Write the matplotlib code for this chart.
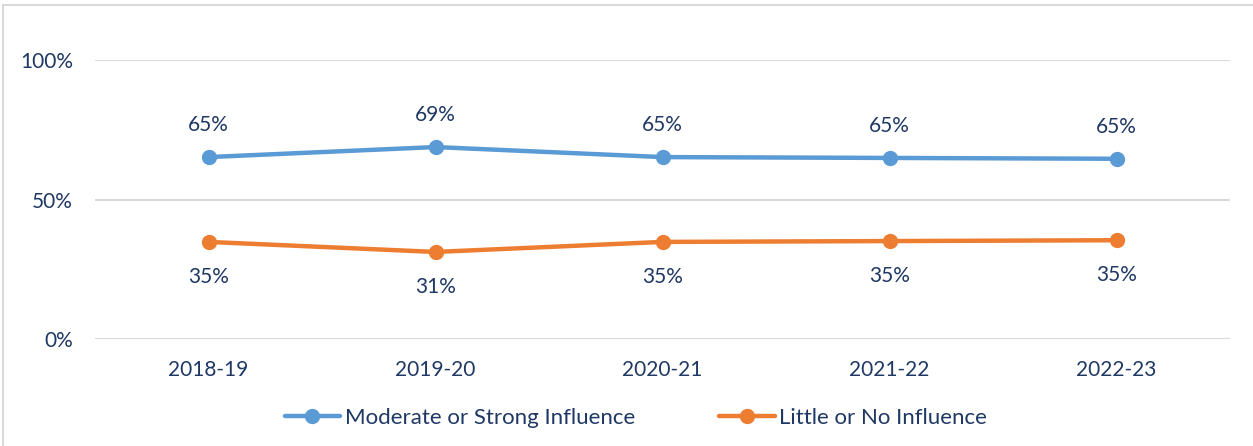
import matplotlib
matplotlib.use("Agg")
import matplotlib.pyplot as plt
from matplotlib.patches import Rectangle

categories = ["2018-19", "2019-20", "2020-21", "2021-22", "2022-23"]
moderate_strong = [65.2, 68.8, 65.2, 64.9, 64.6]
little_none = [34.8, 31.2, 34.8, 35.1, 35.4]
moderate_labels = ["65%", "69%", "65%", "65%", "65%"]
little_labels = ["35%", "31%", "35%", "35%", "35%"]
yticks = [0, 50, 100]
ytick_labels = ["0%", "50%", "100%"]

plt.rcParams['font.family'] = ['Lato', 'DejaVu Sans']
navy = "#1F3864"
blue = "#5B9BD5"
orange = "#ED7D31"

fig = plt.figure(figsize=(12.53, 4.46), dpi=100)
fig.patches.append(Rectangle((3/1253, -0.05), 1.05, 1.05 - 5/446, transform=fig.transFigure,
                             fill=False, edgecolor="#D9D9D9", linewidth=1.5))
ax = fig.add_axes([95/1253, 1 - 339/446, (1230 - 95)/1253, (339 - 60)/446])

x = list(range(len(categories)))
ax.plot(x, moderate_strong, color=blue, lw=3.2, marker="o", ms=10, label="Moderate or Strong Influence",
        solid_capstyle="round", zorder=3)
ax.plot(x, little_none, color=orange, lw=3.2, marker="o", ms=10, label="Little or No Influence",
        solid_capstyle="round", zorder=3)

for xi, v, t in zip(x, moderate_strong, moderate_labels):
    ax.annotate(t, (xi, v), xytext=(0, 16), textcoords="offset points", ha="center", va="bottom",
                color=navy, fontsize=15)
for xi, v, t in zip(x, little_none, little_labels):
    ax.annotate(t, (xi, v), xytext=(0, -18), textcoords="offset points", ha="center", va="top",
                color=navy, fontsize=15)

ax.set_xlim(-0.5, len(categories) - 0.5)
ax.set_ylim(0, 100)
ax.set_yticks(yticks)
ax.set_yticklabels(ytick_labels)
ax.set_xticks(x)
ax.set_xticklabels(categories)
ax.tick_params(axis="both", length=0, labelsize=15, labelcolor=navy)
ax.tick_params(axis="y", pad=16)
ax.tick_params(axis="x", pad=15)
ax.grid(axis="y", color="#D9D9D9", lw=1.5)
ax.set_axisbelow(True)
for s in ax.spines.values():
    s.set_visible(False)

leg = fig.legend(loc="center", bbox_to_anchor=(636/1253, 1 - 418/446), ncol=2, frameon=False,
                 fontsize=16, labelcolor=navy, handlelength=2.5, columnspacing=3.8, handletextpad=0.2)

fig.savefig("out.png", dpi=100)
